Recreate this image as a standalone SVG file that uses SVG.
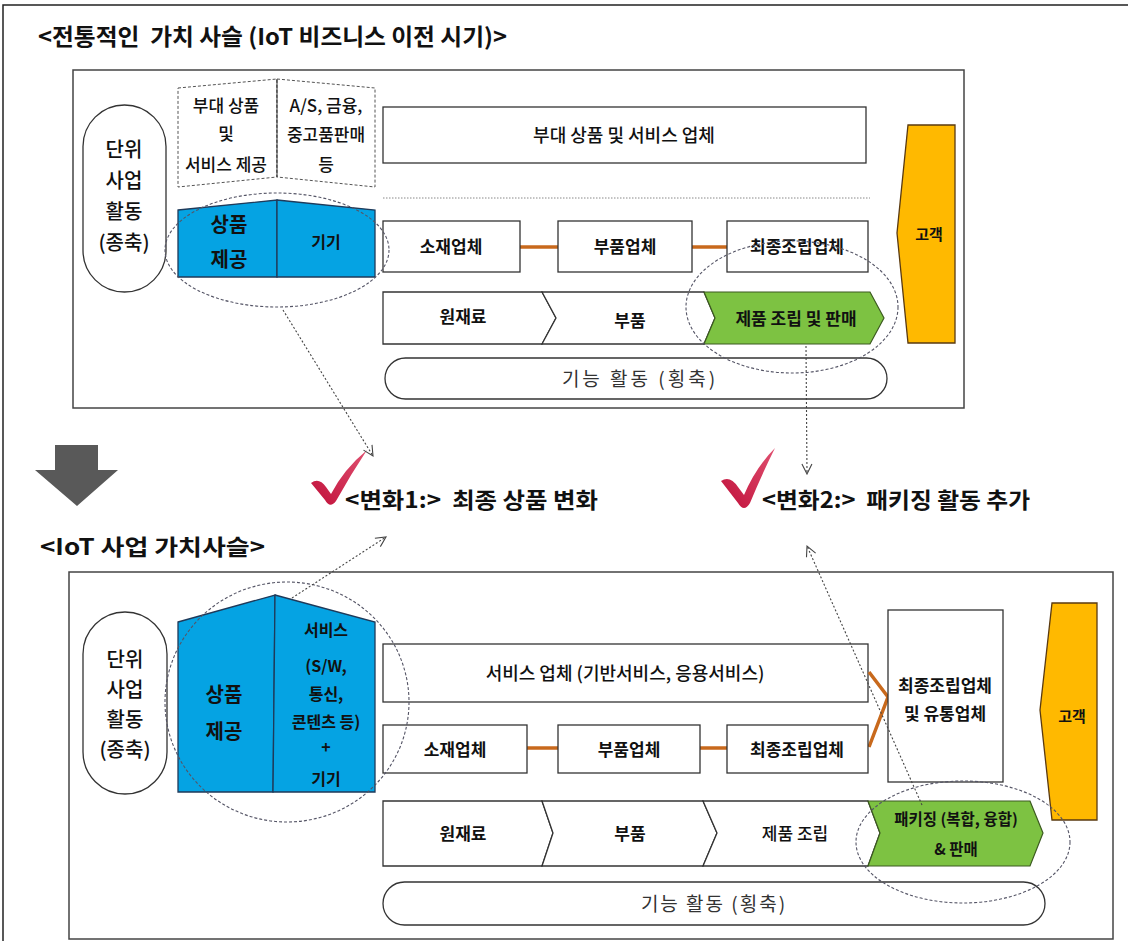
<svg xmlns="http://www.w3.org/2000/svg" width="1128" height="941" viewBox="0 0 1128 941">
<defs>
<style>
.t{font-family:"Noto Sans CJK KR","Noto Sans",sans-serif;fill:#111;text-anchor:middle;font-weight:500}
.b{font-weight:700}
.title{font-family:"Noto Sans CJK KR","Noto Sans",sans-serif;font-weight:700;fill:#111}
.lite{font-family:"Noto Sans CJK KR","Noto Sans",sans-serif;fill:#333;text-anchor:middle}
.box{fill:#fff;stroke:#333;stroke-width:1.3}
.frame{fill:none;stroke:#444;stroke-width:1.5}
.blue{fill:#05a3e3;stroke:#1f3a5a;stroke-width:1.3}
.green{fill:#7dc242;stroke:#3c5a20;stroke-width:1.2}
.cust{fill:#ffb900;stroke:#5a3a10;stroke-width:1.3}
.dash{fill:none;stroke:#556;stroke-width:1.1;stroke-dasharray:3 2}
.dsh{fill:#fff;stroke:#555;stroke-width:1;stroke-dasharray:3 2}
.link{stroke:#c8691c;stroke-width:3.5;fill:none}
.arr{stroke:#444;stroke-width:1.1;stroke-dasharray:2 2;fill:none;marker-end:url(#ah)}
</style>
<marker id="ah" viewBox="0 0 12 12" refX="11" refY="6" markerWidth="12" markerHeight="12" markerUnits="userSpaceOnUse" orient="auto">
<path d="M1,1 L11,6 L1,11" fill="none" stroke="#444" stroke-width="1.1"/>
</marker>
<linearGradient id="chk" x1="0" y1="1" x2="1" y2="0">
<stop offset="0" stop-color="#c0103a"/><stop offset="1" stop-color="#e05070"/>
</linearGradient>
</defs>
<rect x="3" y="5" width="1135" height="950" fill="#fff" stroke="#222" stroke-width="1.5"/>

<!-- titles -->
<text id="title1" class="title" x="38" y="45" font-size="23" textLength="469" lengthAdjust="spacingAndGlyphs">&lt;전통적인&#160; 가치 사슬 (IoT 비즈니스 이전 시기)&gt;</text>

<!-- top frame -->
<rect id="topFrame" x="73" y="70" width="891" height="338" class="frame"/>

<g id="top-unit">
<rect x="83" y="105" width="83" height="187" rx="41.5" class="box"/>
<text class="t" x="124" y="157" font-size="20" font-weight="400">단위</text>
<text class="t" x="124" y="188" font-size="20" font-weight="400">사업</text>
<text class="t" x="124" y="219" font-size="20" font-weight="400">활동</text>
<text class="t" x="124" y="250" font-size="20" font-weight="400">(종축)</text>
</g>

<g id="top-aux">
<polygon points="178,88 277,79 277,177 178,187" class="dsh"/>
<polygon points="277,79 375,88 375,187 277,177" class="dsh"/>
<line x1="277" y1="79" x2="277" y2="177" stroke="#333" stroke-width="1"/>
<text class="t" x="226" y="112" font-size="17">부대 상품</text>
<text class="t" x="226" y="140" font-size="17">및</text>
<text class="t" x="226" y="171" font-size="17">서비스 제공</text>
<text class="t" x="326" y="112" font-size="17">A/S, 금융,</text>
<text class="t" x="326" y="141" font-size="17">중고품판매</text>
<text class="t" x="326" y="171" font-size="17">등</text>
</g>

<g id="top-product">
<polygon points="178,210 277,200 277,277 178,277" class="blue"/>
<polygon points="277,200 375,210 375,277 277,277" class="blue"/>
<text class="t b" x="229" y="232" font-size="20">상품</text>
<text class="t b" x="229" y="267" font-size="20">제공</text>
<text class="t b" x="326" y="248" font-size="16">기기</text>
</g>

<g id="top-aux-company">
<rect x="383" y="107" width="483" height="56" class="box"/>
<text class="t" x="624" y="142" font-size="18">부대 상품 및 서비스 업체</text>
</g>
<line x1="383" y1="198" x2="870" y2="198" stroke="#888" stroke-width="1" stroke-dasharray="1.5 1.5"/>

<g id="connectors-top">
<line x1="520" y1="247" x2="558" y2="247" class="link"/>
<line x1="692" y1="247" x2="727" y2="247" class="link"/>
</g>

<g id="top-material"><rect x="383" y="221" width="137" height="51" class="box"/><text class="t b" x="451" y="253" font-size="17">소재업체</text></g>
<g id="top-parts"><rect x="558" y="221" width="134" height="51" class="box"/><text class="t b" x="625" y="253" font-size="17">부품업체</text></g>
<g id="top-final"><rect x="727" y="221" width="141" height="51" class="box"/><text class="t b" x="797" y="253" font-size="17">최종조립업체</text></g>

<g id="top-chain">
<polygon points="383,292 542,292 556,318 542,344 383,344" class="box"/>
<polygon points="542,292 704,292 715,318 704,344 542,344 556,318" class="box"/>
<polygon points="704,292 870,292 884,318 870,344 704,344 715,318" class="green"/>
<text class="t b" x="463" y="323" font-size="17">원재료</text>
<text class="t b" x="630" y="327" font-size="17">부품</text>
<text class="t b" x="796" y="325" font-size="17">제품 조립 및 판매</text>
</g>

<g id="top-function">
<rect x="385" y="358" width="502" height="41" rx="20.5" class="box"/>
<text class="lite" x="640" y="386" font-size="19" letter-spacing="3">기능 활동 (횡축)</text>
</g>

<g id="top-customer">
<polygon points="908,125 955,125 955,343 908,343 897,233" class="cust"/>
<text class="t b" x="929" y="240" font-size="15">고객</text>
</g>

<ellipse id="top-ell1" cx="277" cy="250" rx="112" ry="57" class="dash"/>
<ellipse id="top-ell2" cx="792" cy="307" rx="106" ry="66" class="dash"/>

<!-- middle -->
<g id="bigArrow">
<polygon points="55,445 98,445 98,470 118,470 77,506 35,470 55,470" fill="#595959"/>
</g>
<text id="title2" class="title" x="40" y="555" font-size="22" textLength="225" lengthAdjust="spacingAndGlyphs">&lt;IoT 사업 가치사슬&gt;</text>

<g id="change1">
<path d="M311,483 Q319,477 326,487 L331,494 Q344,469 367,450 Q351,474 336,501 Q330,509 325,500 Z" fill="url(#chk)"/>
<text class="title" x="345" y="508" font-size="22" textLength="253" lengthAdjust="spacingAndGlyphs">&lt;변화1:&gt;&#160; 최종 상품 변화</text>
</g>
<g id="change2">
<path d="M721,481 Q730,475 738,487 L744,495 Q756,467 775,448 Q762,474 750,503 Q744,513 738,503 Z" fill="url(#chk)"/>
<text class="title" x="762" y="508" font-size="22" textLength="268" lengthAdjust="spacingAndGlyphs">&lt;변화2:&gt;&#160; 패키징 활동 추가</text>
</g>

<!-- bottom frame -->
<rect id="botFrame" x="69" y="572" width="1044" height="367" class="frame"/>

<g id="bot-unit">
<rect x="83" y="612" width="84" height="182" rx="42" class="box"/>
<text class="t" x="125" y="667" font-size="20" font-weight="400">단위</text>
<text class="t" x="125" y="697" font-size="20" font-weight="400">사업</text>
<text class="t" x="125" y="727" font-size="20" font-weight="400">활동</text>
<text class="t" x="125" y="757" font-size="20" font-weight="400">(종축)</text>
</g>

<g id="bot-product">
<polygon points="178,622 275,595 273,792 178,792" class="blue"/>
<polygon points="275,595 375,622 375,792 273,792" class="blue"/>
<text class="t b" x="224" y="702" font-size="20">상품</text>
<text class="t b" x="224" y="739" font-size="20">제공</text>
<text class="t b" x="326" y="636" font-size="16">서비스</text>
<text class="t b" x="326" y="672" font-size="16">(S/W,</text>
<text class="t b" x="326" y="700" font-size="16">통신,</text>
<text class="t b" x="326" y="728" font-size="16">콘텐츠 등)</text>
<text class="t b" x="326" y="753" font-size="16">+</text>
<text class="t b" x="326" y="785" font-size="16">기기</text>
</g>

<g id="bot-service">
<rect x="383" y="644" width="485" height="58" class="box"/>
<text class="t" x="625" y="680" font-size="18">서비스 업체 (기반서비스, 응용서비스)</text>
</g>

<g id="connectors-bot">
<line x1="527" y1="748" x2="558" y2="748" class="link"/>
<line x1="700" y1="748" x2="727" y2="748" class="link"/>
<polyline points="869,672 888,697 869,747" class="link"/>
</g>

<g id="bot-material"><rect x="383" y="725" width="144" height="48" class="box"/><text class="t b" x="455" y="756" font-size="17">소재업체</text></g>
<g id="bot-parts"><rect x="558" y="725" width="142" height="48" class="box"/><text class="t b" x="629" y="756" font-size="17">부품업체</text></g>
<g id="bot-final"><rect x="727" y="725" width="141" height="48" class="box"/><text class="t b" x="797" y="756" font-size="17">최종조립업체</text></g>

<g id="bot-dist">
<rect x="888" y="610" width="115" height="172" class="box"/>
<text class="t b" x="945" y="692" font-size="17">최종조립업체</text>
<text class="t b" x="945" y="720" font-size="17">및 유통업체</text>
</g>

<g id="bot-chain">
<polygon points="383,801 542,801 553,833 542,866 383,866" class="box"/>
<polygon points="542,801 703,801 717,833 703,866 542,866 553,833" class="box"/>
<polygon points="703,801 868,801 880,833 868,866 703,866 717,833" class="box"/>
<polygon points="868,801 1030,801 1043,833 1030,866 868,866 880,833" class="green"/>
<text class="t b" x="463" y="840" font-size="17">원재료</text>
<text class="t b" x="630" y="840" font-size="17">부품</text>
<text class="t" x="795" y="840" font-size="17">제품 조립</text>
<text class="t b" x="956" y="825" font-size="15.5">패키징 (복합, 융합)</text>
<text class="t b" x="956" y="855" font-size="15.5">&amp; 판매</text>
</g>

<g id="bot-function">
<rect x="383" y="882" width="662" height="43" rx="21.5" class="box"/>
<text class="lite" x="714" y="911" font-size="19" letter-spacing="2">기능 활동 (횡축)</text>
</g>

<g id="bot-customer">
<polygon points="1052,603 1097,603 1097,820 1052,820 1040,710" class="cust"/>
<text class="t b" x="1072" y="722" font-size="15">고객</text>
</g>

<ellipse id="bot-ell1" cx="287" cy="702" rx="122" ry="120" class="dash"/>
<ellipse id="bot-ell2" cx="963" cy="842" rx="107" ry="61" class="dash"/>

<g id="connectors">
<line x1="283" y1="310" x2="373" y2="456" class="arr"/>
<line x1="806" y1="346" x2="807" y2="474" class="arr"/>
<line x1="292" y1="598" x2="386" y2="537" class="arr"/>
<line x1="922" y1="805" x2="807" y2="546" class="arr"/>
</g>
</svg>
